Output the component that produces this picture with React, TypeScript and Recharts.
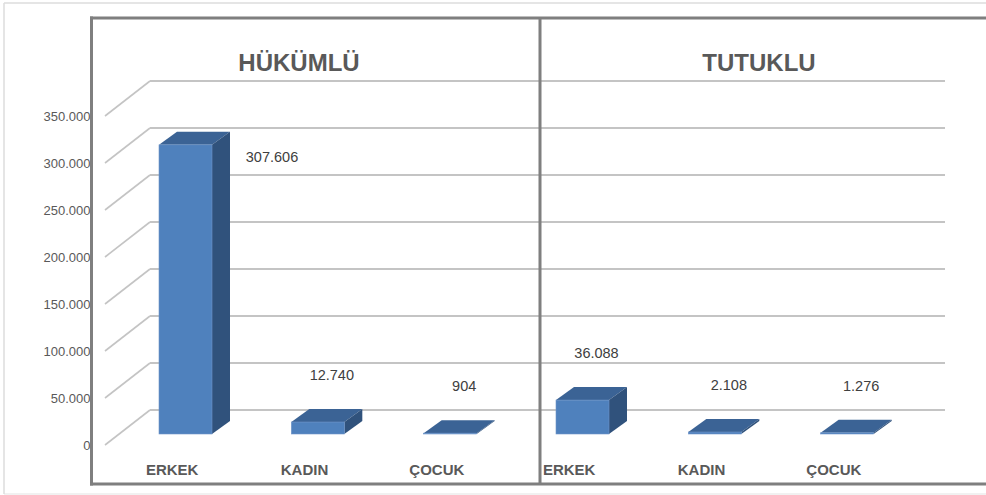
import React from "react";
import { BarChart, Bar, XAxis, YAxis, CartesianGrid, LabelList } from "recharts";

const groups = ["HÜKÜMLÜ", "TUTUKLU"];
const categories = ["ERKEK", "KADIN", "ÇOCUK"];
const hukumlu = [307606, 12740, 904];
const tutuklu = [36088, 2108, 1276];
const yTicks = [0, 50000, 100000, 150000, 200000, 250000, 300000, 350000];

const seriesByGroup = [hukumlu, tutuklu];
const data = groups.flatMap((g, gi) =>
  categories.map((c, ci) => ({ key: `${g}-${c}`, label: c, value: seriesByGroup[gi][ci] }))
);

const FONT = "'Liberation Sans', Arial, sans-serif";
const AXIS_COLOR = "#595959";
const FRONT = "#4F81BD";
const TOP = "#3B6395";
const SIDE = "#30527C";
const DX = 18;
const DY = 13;

const fmt = (v: number) => String(v).replace(/\B(?=(\d{3})+(?!\d))/g, ".");

const Box3D = (props: any) => {
  const { x, y, width, height } = props;
  if (x == null || y == null) return null;
  const h = Math.max(height, 0);
  return (
    <g>
      <polygon
        points={`${x},${y} ${x + DX},${y - DY} ${x + width + DX},${y - DY} ${x + width},${y}`}
        fill={TOP}
      />
      <polygon
        points={`${x + width},${y} ${x + width + DX},${y - DY} ${x + width + DX},${y + h - DY} ${x + width},${y + h}`}
        fill={SIDE}
      />
      <rect x={x} y={y} width={width} height={h} fill={FRONT} stroke="#6f95c8" strokeWidth={0.6} />
    </g>
  );
};

const ValueLabel = (props: any) => {
  const { x, y, width, height, value } = props;
  if (x == null) return null;
  const tall = height > 150;
  const cx = tall ? x + width + 60 : x + width / 2 + 14;
  const cy = tall ? y + 12 : y - 47;
  return (
    <text x={cx} y={cy + 5} textAnchor="middle" fontFamily={FONT} fontSize={14.5} fill="#404040">
      {fmt(value)}
    </text>
  );
};

const GridLine = (props: any) => {
  const { x1, x2, y1 } = props;
  return (
    <g key={props.key}>
      <line x1={x1 - 14} y1={y1 + 11} x2={x1 + 31} y2={y1 - 24} stroke="#c4c4c4" strokeWidth={1.6} />
      <line x1={x1 + 31} y1={y1 - 24} x2={x2 + 32} y2={y1 - 24} stroke="#c4c4c4" strokeWidth={1.8} />
    </g>
  );
};

const YTick = (props: any) => {
  const { x, y, payload } = props;
  return (
    <text x={x - 28.5} y={y + 11 + 4.5} textAnchor="end" fontFamily={FONT} fontSize={13} fill={AXIS_COLOR}>
      {fmt(payload.value)}
    </text>
  );
};

const XTick = (props: any) => {
  const { x, y, payload, index } = props;
  const label = data[index] ? data[index].label : payload.value;
  return (
    <text x={x - 13} y={y + 40.5} textAnchor="middle" fontFamily={FONT} fontSize={15} fontWeight="bold" fill={AXIS_COLOR}>
      {label}
    </text>
  );
};

export default function App() {
  return (
    <div style={{ position: "absolute", left: 0, top: 0, width: 986, height: 495, background: "#fff" }}>
      <BarChart
        width={986}
        height={495}
        data={data}
        margin={{ top: 105, right: 73, bottom: 21, left: 0 }}
        barSize={53}
      >
        <CartesianGrid vertical={false} horizontal={GridLine as any} />
        <YAxis
          width={119}
          domain={[0, 350000]}
          ticks={yTicks}
          interval={0}
          axisLine={false}
          tickLine={false}
          tickSize={0}
          tickMargin={0}
          tick={<YTick />}
        />
        <XAxis
          dataKey="key"
          height={40}
          axisLine={false}
          tickLine={false}
          tickSize={0}
          tickMargin={0}
          interval={0}
          tick={<XTick />}
        />
        <Bar dataKey="value" isAnimationActive={false} shape={<Box3D />}>
          <LabelList dataKey="value" content={<ValueLabel />} />
        </Bar>
      </BarChart>
      <svg
        width={986}
        height={495}
        style={{ position: "absolute", left: 0, top: 0, pointerEvents: "none" }}
      >
        <line x1={4} y1={3} x2={986} y2={3} stroke="#dcdcdc" strokeWidth={1.5} />
        <line x1={4} y1={494} x2={986} y2={494} stroke="#ececec" strokeWidth={1.5} />
        <line x1={4} y1={3} x2={4} y2={494} stroke="#dcdcdc" strokeWidth={1.5} />
        <line x1={91.5} y1={16.5} x2={91.5} y2={485.5} stroke="#7f7f7f" strokeWidth={3} />
        <line x1={90} y1={18} x2={986} y2={18} stroke="#7f7f7f" strokeWidth={3} />
        <line x1={90} y1={484} x2={986} y2={484} stroke="#7f7f7f" strokeWidth={3} />
        <line x1={540} y1={18} x2={540} y2={484} stroke="#7f7f7f" strokeWidth={3} />
        <text x={299} y={70.5} textAnchor="middle" fontFamily={FONT} fontSize={24} fontWeight="bold" fill={AXIS_COLOR}>
          {groups[0]}
        </text>
        <text x={759} y={70.5} textAnchor="middle" fontFamily={FONT} fontSize={24} fontWeight="bold" fill={AXIS_COLOR}>
          {groups[1]}
        </text>
      </svg>
    </div>
  );
}
